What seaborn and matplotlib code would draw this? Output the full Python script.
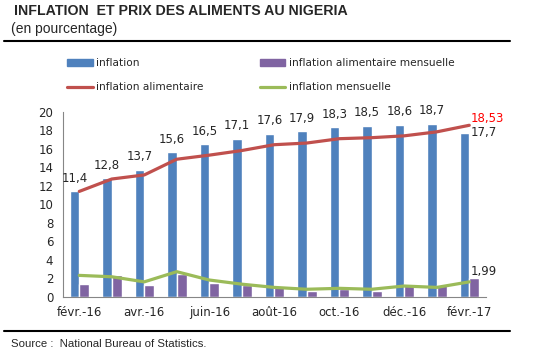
import numpy as np
import pandas as pd
import matplotlib
matplotlib.use("Agg")
import matplotlib.pyplot as plt
import seaborn as sns
from matplotlib.patches import Patch
from matplotlib.lines import Line2D

# Données
mois = ['févr.-16', 'mars-16', 'avr.-16', 'mai-16', 'juin-16', 'juil.-16', 'août-16',
        'sept.-16', 'oct.-16', 'nov.-16', 'déc.-16', 'janv.-17', 'févr.-17']
inflation = [11.4, 12.8, 13.7, 15.6, 16.5, 17.1, 17.6, 17.9, 18.3, 18.5, 18.6, 18.7, 17.7]
infl_alim_mens = [1.4, 2.3, 1.25, 2.5, 1.5, 1.25, 1.15, 0.65, 0.8, 0.65, 1.4, 1.25, 1.99]
infl_alim = [11.38, 12.72, 13.16, 14.86, 15.30, 15.80, 16.43, 16.61, 17.08, 17.19, 17.39, 17.82, 18.53]
infl_mens = [2.3, 2.15, 1.6, 2.7, 1.8, 1.35, 1.0, 0.8, 0.9, 0.8, 1.15, 1.0, 1.6]

bleu = '#4F81BD'
violet = '#8064A2'
rouge = '#C0504D'
vert = '#9BBB59'
gris = '#868686'

df = pd.DataFrame({
    'mois': mois * 2,
    'valeur': inflation + infl_alim_mens,
    'serie': ['inflation'] * 13 + ['inflation alimentaire mensuelle'] * 13,
})

sns.set_style('white')
plt.rcParams['font.family'] = ['DejaVu Sans']

fig = plt.figure(figsize=(5.48, 3.54), dpi=100)
ax = fig.add_axes([0.115, 0.162, 0.771, 0.5225])

sns.barplot(data=df, x='mois', y='valeur', hue='serie', order=mois,
            palette=[bleu, violet], width=0.6, legend=False, ax=ax, saturation=1)
x = np.arange(len(mois))
sns.lineplot(x=x, y=infl_alim, color=rouge, linewidth=2.3, ax=ax)
sns.lineplot(x=x, y=infl_mens, color=vert, linewidth=2.3, ax=ax)

ax.set_xlim(-0.5, 12.5)
ax.set_ylim(0, 20)
ax.set_yticks(range(0, 21, 2))
ax.set_xticks(x[::2])
ax.set_xticklabels(mois[::2])
ax.set_xticks(np.arange(-0.5, 12, 2), minor=True)
ax.tick_params(axis='x', which='major', length=0, pad=7, labelsize=8.5)
ax.tick_params(axis='x', which='minor', length=4, color=gris, direction='out')
ax.tick_params(axis='y', length=4, color=gris, direction='out', labelsize=8.5, pad=3)
ax.set_xlabel('')
ax.set_ylabel('')
for s in ['top', 'right']:
    ax.spines[s].set_visible(False)
for s in ['left', 'bottom']:
    ax.spines[s].set_color(gris)

# étiquettes
for i, v in enumerate(inflation[:-1]):
    ax.text(i - 0.15, v + 0.7, f'{v:.1f}'.replace('.', ','), ha='center', va='bottom', fontsize=8.5)
ax.text(12.05, inflation[-1], f'{inflation[-1]:.1f}'.replace('.', ','), ha='left', va='center', fontsize=8.5)
ax.text(12.05, infl_alim[-1] + 0.7, f'{infl_alim[-1]:.2f}'.replace('.', ','), ha='left', va='center',
        fontsize=8.5, color='red')
ax.text(12.05, infl_alim_mens[-1] + 0.7, f'{infl_alim_mens[-1]:.2f}'.replace('.', ','), ha='left',
        va='center', fontsize=8.5)

# légende
handles = [Patch(color=bleu), Line2D([], [], color=rouge, lw=2.3),
           Patch(color=violet), Line2D([], [], color=vert, lw=2.3)]
labels = ['inflation', 'inflation alimentaire', 'inflation alimentaire mensuelle', 'inflation mensuelle']
fig.legend(handles, labels, ncol=2, loc='upper left', bbox_to_anchor=(0.115, 0.847),
           frameon=False, fontsize=7.6, handlelength=2.4, handleheight=0.55,
           handletextpad=0.3, columnspacing=5.4, labelspacing=1.3, borderaxespad=0)

# titre, source, filets
fig.text(0.026, 0.97, 'INFLATION  ET PRIX DES ALIMENTS AU NIGERIA', fontsize=10.2, fontweight='bold',
         family='Liberation Sans', va='center')
fig.text(0.02, 0.918, '(en pourcentage)', fontsize=10, family='Liberation Sans', va='center')
fig.add_artist(Line2D([0.007, 0.931], [0.884, 0.884], color='black', lw=1.5))
fig.add_artist(Line2D([0.007, 0.931], [0.065, 0.065], color='black', lw=1.5))
fig.text(0.02, 0.027, 'Source :  National Bureau of Statistics.', fontsize=8.2,
         family='Liberation Sans', va='center')

fig.savefig('out.png', dpi=100)
